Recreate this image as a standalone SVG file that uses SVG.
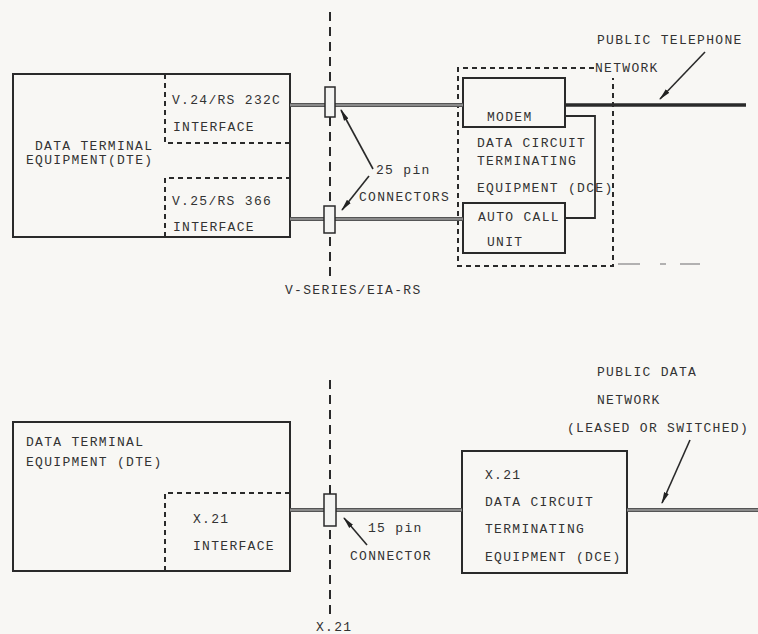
<svg xmlns="http://www.w3.org/2000/svg" width="758" height="634" viewBox="0 0 758 634">
<defs>
<marker id="ah" viewBox="0 0 12 6" refX="11" refY="3" markerWidth="12" markerHeight="6" markerUnits="userSpaceOnUse" orient="auto">
<path d="M0,0.5 L12,3 L0,5.5 Z" fill="#222"/>
</marker>
<style>
text{font-family:"Liberation Mono","DejaVu Sans Mono",monospace;font-size:13px;letter-spacing:1.3px;fill:#333}
.box{fill:none;stroke:#2a2a2a;stroke-width:2}
.dbox{fill:none;stroke:#2a2a2a;stroke-width:2;stroke-dasharray:5 4}
.vdash{fill:none;stroke:#2a2a2a;stroke-width:2;stroke-dasharray:9 6}
.dbl{fill:none;stroke:#555;stroke-width:4}
.dblc{fill:none;stroke:#c0c0c0;stroke-width:1}
.thin{fill:none;stroke:#2a2a2a;stroke-width:1.8}
.arr{fill:none;stroke:#2a2a2a;stroke-width:1.6}
.conn{fill:#f4f4f2;stroke:#2a2a2a;stroke-width:1.5}
</style>
</defs>
<rect width="758" height="634" fill="#f8f7f4"/>

<!-- TOP: V-series -->
<g id="dte-top">
<rect class="box" x="13" y="74" width="277" height="163"/>
<text x="35" y="150">DATA TERMINAL</text>
<text x="26" y="164">EQUIPMENT(DTE)</text>
</g>
<g id="v24-interface">
<path class="dbox" d="M165,74 V143 H290"/>
<text x="172" y="104">V.24/RS 232C</text>
<text x="173" y="131">INTERFACE</text>
</g>
<g id="v25-interface">
<path class="dbox" d="M165,237 V178 H290"/>
<text x="172" y="205">V.25/RS 366</text>
<text x="173" y="231">INTERFACE</text>
</g>
<g id="dce-top">
<path class="dbox" d="M594,68 H458 V266 H613 V78"/>
<path d="M618,264 H640 M660,264 H666 M680,264 H700" fill="none" stroke="#9a9a9a" stroke-width="1.5"/>
<text x="477" y="147">DATA CIRCUIT</text>
<text x="477" y="165">TERMINATING</text>
<text x="477" y="192">EQUIPMENT (DCE)</text>
</g>
<g id="modem">
<rect class="box" x="463" y="78" width="102" height="49"/>
<text x="487" y="121">MODEM</text>
</g>
<g id="auto-call">
<rect class="box" x="463" y="203" width="102" height="50"/>
<text x="478" y="221">AUTO CALL</text>
<text x="487" y="246">UNIT</text>
</g>
<g id="telephone-network-label">
<text x="597" y="44">PUBLIC TELEPHONE</text>
<text x="595" y="72">NETWORK</text>
</g>
<g id="v-series-label">
<text x="285" y="294">V-SERIES/EIA-RS</text>
</g>
<g id="connectors-label">
<text x="376" y="174">25 pin</text>
<text x="359" y="201">CONNECTORS</text>
</g>

<!-- BOTTOM: X.21 -->
<g id="dte-bottom">
<rect class="box" x="13" y="422" width="277" height="149"/>
<text x="26" y="446">DATA TERMINAL</text>
<text x="26" y="466">EQUIPMENT (DTE)</text>
</g>
<g id="x21-interface">
<path class="dbox" d="M165,571 V493 H290"/>
<text x="193" y="523">X.21</text>
<text x="193" y="550">INTERFACE</text>
</g>
<g id="dce-bottom">
<rect class="box" x="462" y="451" width="165" height="122"/>
<text x="485" y="479">X.21</text>
<text x="485" y="506">DATA CIRCUIT</text>
<text x="485" y="533">TERMINATING</text>
<text x="485" y="561">EQUIPMENT (DCE)</text>
</g>
<g id="data-network-label">
<text x="597" y="376">PUBLIC DATA</text>
<text x="597" y="404">NETWORK</text>
<text x="567" y="432">(LEASED OR SWITCHED)</text>
</g>
<g id="connector-label-bottom">
<text x="368" y="532">15 pin</text>
<text x="350" y="560">CONNECTOR</text>
</g>
<g id="x21-label">
<text x="316" y="631">X.21</text>
</g>

<g id="connectors">
<!-- boundary lines -->
<path class="vdash" d="M330,12 V280"/>
<path class="vdash" d="M330,380 V620"/>
<!-- top lines -->
<path class="dbl" d="M290,105 H463"/>
<path class="dblc" d="M290,105 H463"/>
<path class="dbl" d="M290,219 H463"/>
<path class="dblc" d="M290,219 H463"/>
<path d="M565,105 H746" fill="none" stroke="#2a2a2a" stroke-width="3.5"/>
<path class="thin" d="M565,116 H595 V218 H565"/>
<rect class="conn" x="325" y="87" width="10" height="30"/>
<rect class="conn" x="324" y="206" width="11" height="27"/>
<path class="arr" d="M373,169 L341,110" marker-end="url(#ah)"/>
<path class="arr" d="M369,176 L342,210" marker-end="url(#ah)"/>
<path class="arr" d="M705,52 L660,99" marker-end="url(#ah)"/>
<!-- bottom lines -->
<path class="dbl" d="M290,510 H462"/>
<path class="dblc" d="M290,510 H462"/>
<path class="dbl" d="M627,510 H758"/>
<path class="dblc" d="M627,510 H758"/>
<rect class="conn" x="324" y="494" width="12" height="32"/>
<path class="arr" d="M367,545 L344,518" marker-end="url(#ah)"/>
<path class="arr" d="M690,440 L662,503" marker-end="url(#ah)"/>
</g>
</svg>
